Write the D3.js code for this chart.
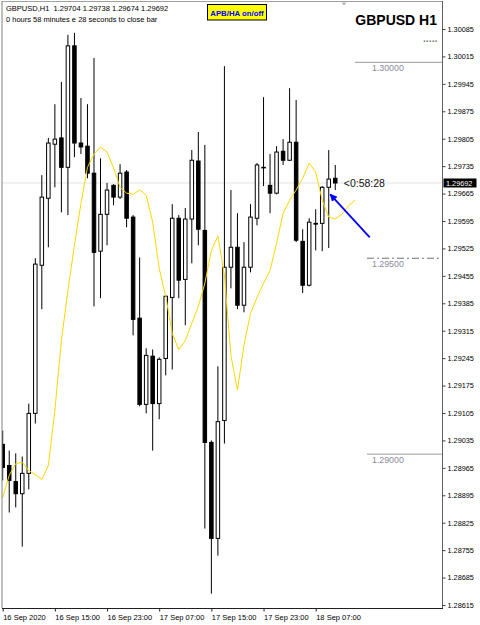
<!DOCTYPE html>
<html><head><meta charset="utf-8">
<script src="https://cdn.jsdelivr.net/npm/d3@7"></script>
<style>
body{margin:0;background:#fff}
svg{display:block}
text{font-family:"Liberation Sans",Arial,sans-serif}
</style>
</head><body>
<script>
// ---- data (GBPUSD H1, 16 Sep 07:00 -> 18 Sep 10:00) ----
const open  = [1.29025,1.28971,1.28930,1.28899,1.28951,1.29104,1.29482,1.29653,1.29791,1.29807,
               1.29732,1.30042,1.29794,1.29786,1.29717,1.29518,1.29612,1.29686,1.29656,1.29720,
               1.29605,1.29347,1.29127,1.29250,1.29129,1.29244,1.29400,1.29602,1.29446,1.29600,
               1.29748,1.29571,1.29030,1.28785,1.29086,1.29477,1.29528,1.29380,1.29477,1.29602,
               1.29732,1.29686,1.29666,1.29773,1.29750,1.29796,1.29543,1.29431,1.29589,1.29589,
               1.29681,1.29704];
const high  = [1.29060,1.29009,1.29002,1.28994,1.29129,1.29500,1.29712,1.29807,1.29893,1.29950,
               1.30070,1.30075,1.29909,1.29893,1.30011,1.29755,1.29692,1.29689,1.29740,1.29725,
               1.29610,1.29502,1.29270,1.29267,1.29247,1.29405,1.29638,1.29610,1.29628,1.29776,
               1.29822,1.29789,1.29035,1.29224,1.29990,1.29674,1.29615,1.29541,1.29638,1.29743,
               1.29911,1.29766,1.29786,1.29804,1.29934,1.29904,1.29574,1.29602,1.29625,1.29684,
               1.29776,1.29738];
const low   = [1.28933,1.28851,1.28864,1.28764,1.28910,1.29078,1.29370,1.29528,1.29681,1.29617,
               1.29610,1.29758,1.29766,1.29704,1.29377,1.29398,1.29533,1.29635,1.29651,1.29579,
               1.29303,1.29122,1.29104,1.29009,1.29089,1.29201,1.29216,1.29398,1.29329,1.29487,
               1.29533,1.28810,1.28644,1.28741,1.29027,1.29423,1.29370,1.29362,1.29464,1.29584,
               1.29684,1.29615,1.29663,1.29738,1.29748,1.29541,1.29411,1.29428,1.29520,1.29518,
               1.29526,1.29674];
const close = [1.28966,1.28933,1.28899,1.28951,1.29104,1.29485,1.29656,1.29794,1.29804,1.29732,
               1.30042,1.29794,1.29784,1.29717,1.29515,1.29612,1.29674,1.29656,1.29717,1.29602,
               1.29344,1.29127,1.29252,1.29129,1.29242,1.29403,1.29602,1.29444,1.29600,1.29750,
               1.29574,1.29030,1.28785,1.29083,1.29477,1.29528,1.29380,1.29477,1.29605,1.29738,
               1.29731,1.29666,1.29771,1.29750,1.29796,1.29546,1.29431,1.29592,1.29587,1.29681,
               1.29702,1.29692];
// moving average (shifted 3 bars forward)
const ma    = [1.28889,1.28946,1.28976,1.28979,1.28958,1.28948,1.28935,1.28971,1.29112,1.29290,
               1.29418,1.29533,1.29640,1.29732,1.29766,1.29784,1.29771,1.29730,1.29681,1.29666,
               1.29663,1.29674,1.29661,1.29592,1.29474,1.29403,1.29308,1.29267,1.29290,1.29334,
               1.29377,1.29436,1.29520,1.29556,1.29457,1.29252,1.29163,1.29278,1.29359,1.29400,
               1.29436,1.29469,1.29538,1.29615,1.29648,1.29674,1.29704,1.29743,1.29720,1.29648,
               1.29605,1.29600,1.29612,1.29633,1.29648];
const timeTickIdx    = [0,8,16,24,32,40,48];
const timeTickLabels = ["16 Sep 2020","16 Sep 15:00","16 Sep 23:00","17 Sep 07:00","17 Sep 15:00","17 Sep 23:00","18 Sep 07:00"];
const priceTicks = [1.30085,1.30015,1.29945,1.29875,1.29805,1.29735,1.29665,1.29595,1.29525,1.29455,1.29385,
                    1.29315,1.29245,1.29175,1.29105,1.29035,1.28965,1.28895,1.28825,1.28755,1.28685,1.28615];
const levels = [1.30000,1.29500,1.29000];
const bid = 1.29692;
const headerText = "GBPUSD,H1  1.29704 1.29738 1.29674 1.29692";
const timerText = "0 hours 58 minutes e 28 seconds to close bar";
const countdown = "<0:58:28";

// ---- drawing ----
const W=480,H=625;
const P={l:2,r:442,t:1,b:608};
const svg=d3.select("body").append("svg").attr("width",W).attr("height",H);
svg.append("rect").attr("width",W).attr("height",H).attr("fill","#fff");

const y=d3.scaleLinear().domain([1.28615,1.30085]).range([605,29]);
const x=d3.scaleLinear().domain([0,48]).range([2.7,315.7]);

svg.append("clipPath").attr("id","pc").append("rect")
  .attr("x",P.l).attr("y",P.t).attr("width",P.r-P.l).attr("height",P.b-P.t);
const g=svg.append("g").attr("clip-path","url(#pc)");

// bid line
g.append("line").attr("x1",P.l).attr("x2",P.r).attr("y1",y(bid)).attr("y2",y(bid))
  .attr("stroke","#e2e2e2").attr("stroke-width",1);

// level lines
const levelStart=[355,367,367];
const levelDash=[null,"7,3,2,3",null];
const levelColor=["#9a9a9a","#707070","#9a9a9a"];
levels.forEach((v,i)=>{
  g.append("line").attr("x1",levelStart[i]).attr("x2",P.r).attr("y1",y(v)).attr("y2",y(v))
    .attr("stroke",levelColor[i]).attr("stroke-width",1).attr("stroke-dasharray",levelDash[i]);
  g.append("text").attr("x",372).attr("y",y(v)+9).attr("font-size","8.8px")
    .attr("fill","#8a8a9a").text(v.toFixed(5));
});

const bars=d3.range(open.length);
// wicks
g.selectAll("line.wick").data(bars).join("line").attr("class","wick")
  .attr("x1",i=>x(i)).attr("x2",i=>x(i))
  .attr("y1",i=>y(high[i])).attr("y2",i=>y(low[i]))
  .attr("stroke","#000").attr("stroke-width",1);
// bodies
g.selectAll("rect.body").data(bars).join("rect").attr("class","body")
  .attr("x",i=>x(i)-1.75).attr("width",3.5)
  .attr("y",i=>y(Math.max(open[i],close[i])))
  .attr("height",i=>Math.max(0.6,Math.abs(y(open[i])-y(close[i]))))
  .attr("fill",i=>close[i]>=open[i]?"#fff":"#000")
  .attr("stroke","#000").attr("stroke-width",1);

// moving average
g.append("path").datum(ma)
  .attr("d",d3.line().x((d,i)=>x(i)).y(d=>y(d)))
  .attr("fill","none").attr("stroke","#ffd700").attr("stroke-width",1);

// arrow
const tip=[x(50)+1.5,y(open[50])+7];
const tail=[tip[0]+39.5,tip[1]+43];
svg.append("defs").append("marker").attr("id","ah").attr("viewBox","0 0 10 10")
  .attr("refX",9).attr("refY",5).attr("markerWidth",4.2).attr("markerHeight",4.2)
  .attr("orient","auto").append("path").attr("d","M0,0L10,5L0,10z").attr("fill","#0000ff");
svg.append("line").attr("x1",tail[0]).attr("y1",tail[1]).attr("x2",tip[0]).attr("y2",tip[1])
  .attr("stroke","#0000ff").attr("stroke-width",1.8).attr("marker-end","url(#ah)");

// countdown
svg.append("text").attr("x",x(51)+8.5).attr("y",y(close[51])+4).attr("font-size","10.5px")
  .attr("fill","#111").text(countdown);

// frame
svg.append("line").attr("x1",P.l).attr("x2",P.r).attr("y1",P.t+0.5).attr("y2",P.t+0.5).attr("stroke","#a0a0a0");
svg.append("line").attr("x1",P.l).attr("x2",P.l).attr("y1",P.t).attr("y2",P.b).attr("stroke","#808080");
svg.append("line").attr("x1",P.r+0.5).attr("x2",P.r+0.5).attr("y1",P.t).attr("y2",P.b).attr("stroke","#606060");
svg.append("line").attr("x1",P.l).attr("x2",P.r+1).attr("y1",P.b+0.5).attr("y2",P.b+0.5).attr("stroke","#202020");

// price axis
const ay=svg.append("g").attr("transform",`translate(${P.r+0.5},0)`)
  .call(d3.axisRight(y).tickValues(priceTicks).tickSize(3).tickPadding(2).tickFormat(d3.format(".5f")));
ay.select(".domain").remove();
ay.selectAll("line").attr("stroke","#404040");
ay.selectAll("text").attr("font-size","7.3px").attr("fill","#000").attr("font-family","Liberation Sans, Arial, sans-serif");

// time axis
const ax=svg.append("g").attr("transform",`translate(0,${P.b+0.5})`)
  .call(d3.axisBottom(x).tickValues(timeTickIdx).tickSize(3).tickPadding(3).tickFormat((d,i)=>timeTickLabels[i]));
ax.select(".domain").remove();
ax.selectAll("line").attr("stroke","#202020");
ax.selectAll("text").attr("font-size","7.5px").attr("fill","#000").attr("text-anchor","start")
  .attr("font-family","Liberation Sans, Arial, sans-serif");

// bid price label
svg.append("rect").attr("x",443.5).attr("y",y(bid)-4.5).attr("width",33).attr("height",9).attr("fill","#000");
svg.append("text").attr("x",446).attr("y",y(bid)+2.8).attr("font-size","7.3px").attr("fill","#fff").text(bid.toFixed(5));

// header texts
svg.append("text").attr("x",6).attr("y",10.5).attr("font-size","7.5px").attr("fill","#000")
  .attr("xml:space","preserve").style("white-space","pre").text(headerText);
svg.append("text").attr("x",6).attr("y",21.5).attr("font-size","7.5px").attr("fill","#000").text(timerText);

// button
svg.append("rect").attr("x",207.5).attr("y",4.5).attr("width",59).attr("height",15.5)
  .attr("fill","#ffff00").attr("stroke","#000").attr("stroke-width",1);
svg.append("text").attr("x",237).attr("y",15.5).attr("text-anchor","middle").attr("font-size","7.8px")
  .attr("font-weight","bold").attr("fill","#0000ff").text("APB/HA on/off");

// title
svg.append("text").attr("x",437).attr("y",25).attr("text-anchor","end").attr("font-size","14px")
  .attr("font-weight","bold").attr("fill","#000").text("GBPUSD H1");
svg.append("text").attr("x",437.5).attr("y",42).attr("text-anchor","end").attr("font-size","10.5px")
  .attr("font-weight","bold").attr("fill","#808080").text(".....");

// shift marker
svg.append("path").attr("d","M341.5,2.5L346.5,2.5L344,5.5Z").attr("fill","#b0b0b0");
</script>
</body></html>
